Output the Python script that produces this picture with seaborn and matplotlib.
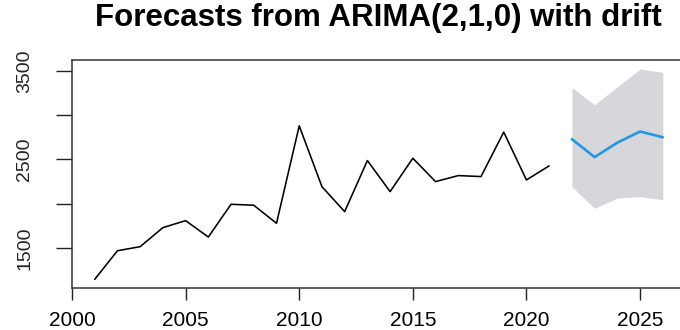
import matplotlib
matplotlib.use("Agg")
import matplotlib.pyplot as plt
import seaborn as sns
import pandas as pd

# Observed annual series
hist_years = [2001, 2002, 2003, 2004, 2005, 2006, 2007, 2008, 2009, 2010, 2011,
              2012, 2013, 2014, 2015, 2016, 2017, 2018, 2019, 2020, 2021]
hist_values = [1146, 1469, 1515, 1730, 1809, 1624, 1994, 1983, 1779, 2880, 2193,
               1911, 2488, 2137, 2514, 2250, 2318, 2307, 2809, 2269, 2428]

# Point forecasts with prediction interval
fc_years = [2022, 2023, 2024, 2025, 2026]
fc_mean = [2730, 2527, 2690, 2816, 2751]
fc_lower = [2193, 1949, 2064, 2080, 2045]
fc_upper = [3313, 3118, 3322, 3522, 3484]

x_ticks = [2000, 2005, 2010, 2015, 2020, 2025]
y_ticks = [1500, 2000, 2500, 3000, 3500]
y_tick_labels = ["1500", "", "2500", "", "3500"]
title = "Forecasts from ARIMA(2,1,0) with drift"

sns.set_theme(style="white")
plt.rcParams["font.family"] = ["Liberation Sans", "DejaVu Sans"]

hist = pd.DataFrame({"year": hist_years, "value": hist_values})
fc = pd.DataFrame({"year": fc_years, "mean": fc_mean,
                   "lower": fc_lower, "upper": fc_upper})

fig = plt.figure(figsize=(6.8, 3.3), dpi=100)
ax = fig.add_axes([72 / 680, 42 / 330, 613.5 / 680, 228 / 330])

ax.fill_between(fc["year"], fc["lower"], fc["upper"],
                color="#D6D6DB", linewidth=0, zorder=1)
sns.lineplot(data=hist, x="year", y="value", ax=ax, color="black",
             linewidth=1.15, zorder=3)
sns.lineplot(data=fc, x="year", y="mean", ax=ax, color="#2297E6",
             linewidth=1.9, zorder=4)

ax.set_xlim(2000, 2027)
ax.set_ylim(1048, 3624)
ax.set_xticks(x_ticks)
ax.set_xticklabels([str(t) for t in x_ticks], fontsize=15)
ax.set_yticks(y_ticks)
ax.set_yticklabels(y_tick_labels, fontsize=14, rotation=90, va="center")
ax.set_xlabel("")
ax.set_ylabel("")

ax.tick_params(axis="x", length=8.6, width=1.0, pad=8.0, colors="#222222",
               labelcolor="black", direction="out", bottom=True)
ax.tick_params(axis="y", length=11.5, width=1.0, pad=16.5, colors="#222222",
               labelcolor="#222222", direction="out", left=True)
for side in ["left", "right", "top", "bottom"]:
    ax.spines[side].set_visible(True)
    ax.spines[side].set_color("#333333")
    ax.spines[side].set_linewidth(1.1)

ax.text(0.5, 1.149, title, transform=ax.transAxes, ha="center", va="baseline",
        fontsize=22.5, fontweight="bold", color="black")

fig.savefig("out.png", dpi=100)
